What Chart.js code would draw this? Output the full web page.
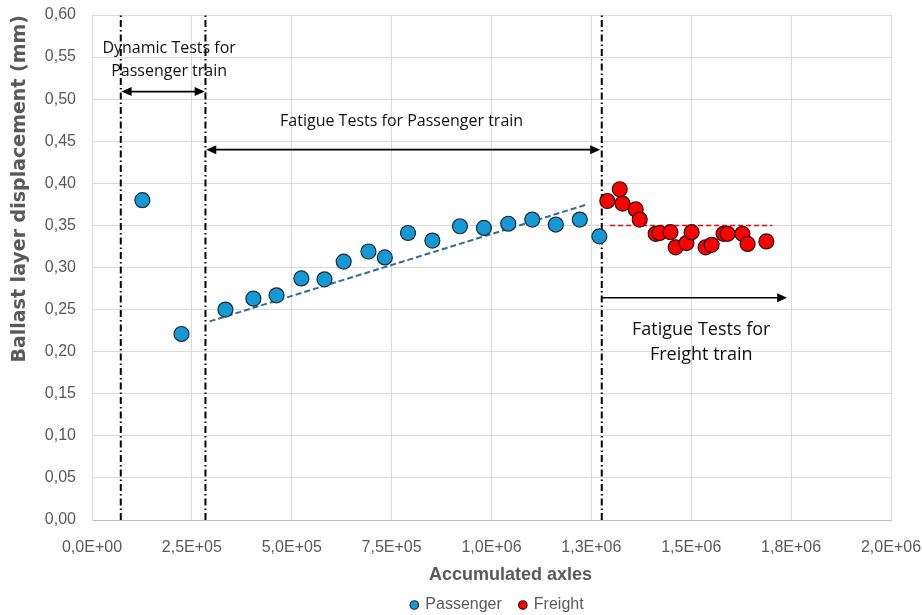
<!DOCTYPE html>
<html>
<head>
<meta charset="utf-8">
<script src="https://cdn.jsdelivr.net/npm/chart.js@4.4.1/dist/chart.umd.min.js"></script>
<style>
  body { margin: 0; background: #fff; }
  #wrap { width: 922px; height: 615px; }
</style>
</head>
<body>
<div id="wrap"><canvas id="ballastChart" width="922" height="615"></canvas></div>
<script>
// measured points
var passengerX = [126000, 224000, 334000, 404000, 462000, 524000, 582000, 630000, 692000, 733000,
                  791000, 852000, 921000, 981000, 1042000, 1102000, 1161000, 1221000, 1270000];
var passengerY = [0.380, 0.221, 0.250, 0.263, 0.267, 0.287, 0.286, 0.307, 0.319, 0.312,
                  0.341, 0.332, 0.349, 0.347, 0.352, 0.357, 0.351, 0.357, 0.337];
var freightX = [1290000, 1321000, 1328000, 1361000, 1371000, 1411000, 1421000, 1448000, 1461000,
                1488000, 1501000, 1536000, 1551000, 1581000, 1591000, 1628000, 1641000, 1688000];
var freightY = [0.379, 0.393, 0.376, 0.369, 0.357, 0.340, 0.341, 0.342, 0.324,
                0.329, 0.342, 0.324, 0.327, 0.340, 0.340, 0.340, 0.328, 0.331];

// trend lines
var trendX = [294500, 1239700];
var trendY = [0.236, 0.375];
var freightMeanX = [1297000, 1703000];
var freightMeanY = [0.350, 0.350];

// test phase boundaries (dash-dot lines)
var phaseX = [72000, 284000, 1276000];

// arrows
var arrowFrom = [74000, 286000, 1276000];
var arrowTo = [282000, 1272000, 1740000];
var arrowAt = [0.509, 0.440, 0.264];
var arrowBoth = [true, true, false];

// text notes
var noteText = ["Dynamic Tests for", "Passenger train", "Fatigue Tests for Passenger train", "Fatigue Tests for", "Freight train"];
var noteX = [193000, 193000, 775000, 1525000, 1525000];
var noteY = [0.560, 0.533, 0.474, 0.226, 0.196];
var noteSize = [16, 16, 16, 18, 18];

function sci(v) {
  var parts = v.toExponential(1).split("e");
  var e = parseInt(parts[1], 10);
  return parts[0].replace(".", ",") + "E" + (e < 0 ? "-" : "+") + String(Math.abs(e)).padStart(2, "0");
}

var datasets = [{
  label: "Passenger",
  data: passengerX.map(function (x, i) { return {x: x, y: passengerY[i]}; }),
  backgroundColor: "#139ad6",
  borderColor: "#1c2a33",
  borderWidth: 1.2,
  pointRadius: 7.5,
  order: 0
}, {
  label: "Freight",
  data: freightX.map(function (x, i) { return {x: x, y: freightY[i]}; }),
  backgroundColor: "#ff0000",
  borderColor: "#2a1010",
  borderWidth: 1.2,
  pointRadius: 7.5,
  order: 0
}, {
  type: "line",
  label: "trend",
  data: trendX.map(function (x, i) { return {x: x, y: trendY[i]}; }),
  borderColor: "#2b6e99",
  borderWidth: 2,
  borderDash: [6, 3],
  pointRadius: 0,
  order: 1
}, {
  type: "line",
  label: "mean",
  data: freightMeanX.map(function (x, i) { return {x: x, y: freightMeanY[i]}; }),
  borderColor: "#ff0000",
  borderWidth: 1.5,
  borderDash: [5, 3],
  pointRadius: 0,
  order: 1
}];

phaseX.forEach(function (x) {
  datasets.push({
    type: "line",
    label: "phase",
    data: [{x: x, y: 0}, {x: x, y: 0.6}],
    borderColor: "#000",
    borderWidth: 2,
    borderDash: [7, 3, 1.5, 3],
    pointRadius: 0,
    order: 2
  });
});

var overlay = {
  id: "overlay",
  afterLayout: function (chart) {
    var lg = chart.legend;
    lg.left += 52; lg.right += 52;
    lg.top += 8; lg.bottom += 8;
  },
  afterDatasetsDraw: function (chart) {
    var ctx = chart.ctx, xs = chart.scales.x, ys = chart.scales.y, area = chart.chartArea;
    ctx.save();
    ctx.strokeStyle = "#000";
    ctx.fillStyle = "#000";
    ctx.lineWidth = 1.6;
    function head(px, py, dir) {
      ctx.beginPath();
      ctx.moveTo(px, py);
      ctx.lineTo(px - dir * 10, py - 4.5);
      ctx.lineTo(px - dir * 10, py + 4.5);
      ctx.closePath();
      ctx.fill();
    }
    for (var i = 0; i < arrowFrom.length; i++) {
      var x1 = xs.getPixelForValue(arrowFrom[i]);
      var x2 = xs.getPixelForValue(arrowTo[i]);
      var py = ys.getPixelForValue(arrowAt[i]);
      ctx.beginPath();
      ctx.moveTo(arrowBoth[i] ? x1 + 6 : x1, py);
      ctx.lineTo(x2 - 6, py);
      ctx.stroke();
      head(x2, py, 1);
      if (arrowBoth[i]) head(x1, py, -1);
    }
    ctx.textAlign = "center";
    ctx.textBaseline = "middle";
    ctx.fillStyle = "#111";
    for (var j = 0; j < noteText.length; j++) {
      ctx.font = noteSize[j] + "px 'Open Sans'";
      ctx.fillText(noteText[j], xs.getPixelForValue(noteX[j]), ys.getPixelForValue(noteY[j]));
    }
    // x axis title
    ctx.font = "bold 18px 'Liberation Sans'";
    ctx.fillStyle = "#595959";
    ctx.fillText("Accumulated axles", (area.left + area.right) / 2 + 19, 575);
    ctx.restore();
  }
};

new Chart("ballastChart", {
  type: "scatter",
  data: {datasets: datasets},
  options: {
    responsive: false,
    animation: false,
    layout: {padding: {top: 15, right: 31, left: 0, bottom: 0}},
    plugins: {
      tooltip: {enabled: false},
      legend: {
        position: "bottom",
        labels: {
          usePointStyle: true,
          pointStyle: "circle",
          boxWidth: 6,
          boxHeight: 6,
          padding: 18,
          color: "#595959",
          font: {family: "'Liberation Sans'", size: 16},
          filter: function (item) { return item.text === "Passenger" || item.text === "Freight"; }
        }
      }
    },
    scales: {
      x: {
        type: "linear",
        min: 0,
        max: 2000000,
        afterFit: function (s) { s.height = 51; s.paddingLeft = 0; s.paddingRight = 0; },
        ticks: {
          stepSize: 250000,
          autoSkip: false,
          maxRotation: 0,
          padding: 18,
          color: "#595959",
          font: {family: "'Liberation Sans'", size: 16},
          callback: function (v) { return sci(v); }
        },
        grid: {color: "#d9d9d9", drawTicks: false},
        border: {color: "#bfbfbf"}
      },
      y: {
        min: 0,
        max: 0.6,
        afterFit: function (s) { s.width = 92; s.paddingTop = 0; s.paddingBottom = 0; },
        ticks: {
          stepSize: 0.05,
          padding: 16,
          color: "#595959",
          font: {family: "'Liberation Sans'", size: 16},
          callback: function (v) { return v.toFixed(2).replace(".", ","); }
        },
        grid: {color: "#d9d9d9", drawTicks: false},
        border: {color: "#d9d9d9"},
        title: {
          display: true,
          text: "Ballast layer displacement (mm)",
          align: "end",
          color: "#595959",
          padding: {top: 9, bottom: 0},
          font: {family: "'DejaVu Sans'", size: 19, weight: "bold"}
        }
      }
    }
  },
  plugins: [overlay]
});
</script>
</body>
</html>
